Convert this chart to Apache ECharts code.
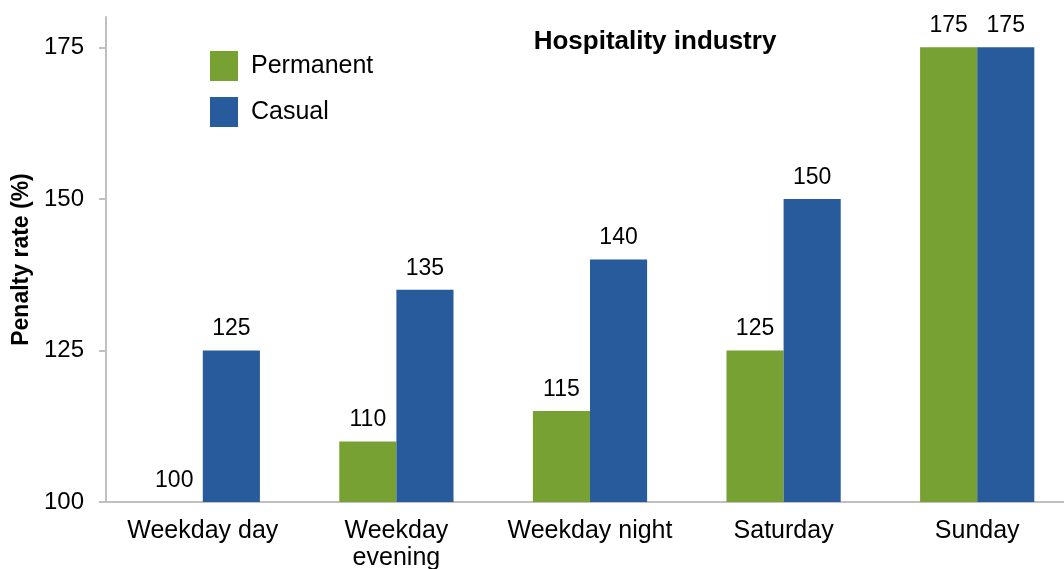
<!DOCTYPE html>
<html>
<head>
<meta charset="utf-8">
<script src="https://cdn.jsdelivr.net/npm/echarts@6/dist/echarts.min.js"></script>
<style>
  html, body { margin: 0; padding: 0; background: #fff; }
  #chart { width: 1064px; height: 569px; }
</style>
</head>
<body>
<div id="chart"></div>
<script>
const categories = ["Weekday day", "Weekday\nevening", "Weekday night", "Saturday", "Sunday"];
const permanent = [100, 110, 115, 125, 175];
const casual = [125, 135, 140, 150, 175];
const yTicks = [100, 125, 150, 175];

const colors = {
  green: "#77a132",
  blue: "#285b9b",
  axis: "#c0c0c0",
  text: "#000000",
};

const font = "Liberation Sans, Arial, sans-serif";

const chart = echarts.init(document.getElementById("chart"), null, { renderer: "canvas" });

const labelStyle = {
  show: true,
  position: "top",
  distance: 10,
  color: colors.text,
  fontSize: 23,
  fontFamily: font,
};

chart.setOption({
  animation: false,
  title: {
    text: "Hospitality industry",
    left: 650,
    top: 24,
    textAlign: "center",
    textStyle: { fontSize: 26, fontWeight: "bold", color: colors.text, fontFamily: font },
  },
  legend: {
    orient: "vertical",
    left: 205,
    top: 46,
    itemWidth: 28,
    itemHeight: 30,
    itemGap: 16,
    icon: "rect",
    textStyle: { fontSize: 25, color: colors.text, fontFamily: font, padding: [0, 0, 0, 8] },
    data: ["Permanent", "Casual"],
  },
  // plot area runs a little past the right edge, as in the source image
  grid: { left: 106, right: -10, top: 17, bottom: 67, outerBoundsMode: "none" },
  xAxis: {
    type: "category",
    data: categories,
    axisLine: { lineStyle: { color: colors.axis, width: 2 } },
    axisTick: { show: false },
    axisLabel: { interval: 0, color: colors.text, fontSize: 25, fontFamily: font, margin: 16, lineHeight: 27 },
  },
  yAxis: {
    type: "value",
    min: 100,
    max: 180,
    interval: 25,
    name: "Penalty rate (%)",
    nameLocation: "middle",
    nameGap: 73,
    nameTextStyle: { fontSize: 23, fontWeight: "bold", color: colors.text, fontFamily: font },
    splitLine: { show: false },
    axisLine: { show: true, lineStyle: { color: colors.axis, width: 2 } },
    axisTick: { show: true, length: 7, customValues: yTicks, lineStyle: { color: colors.axis, width: 2 } },
    axisLabel: { customValues: yTicks, color: colors.text, fontSize: 24, fontFamily: font, margin: 22 },
  },
  series: [
    {
      name: "Permanent",
      type: "bar",
      data: permanent,
      barGap: "0%",
      barCategoryGap: "41%",
      itemStyle: { color: colors.green },
      label: labelStyle,
    },
    {
      name: "Casual",
      type: "bar",
      data: casual,
      barGap: "0%",
      barCategoryGap: "41%",
      itemStyle: { color: colors.blue },
      label: labelStyle,
    },
  ],
});
</script>
</body>
</html>
